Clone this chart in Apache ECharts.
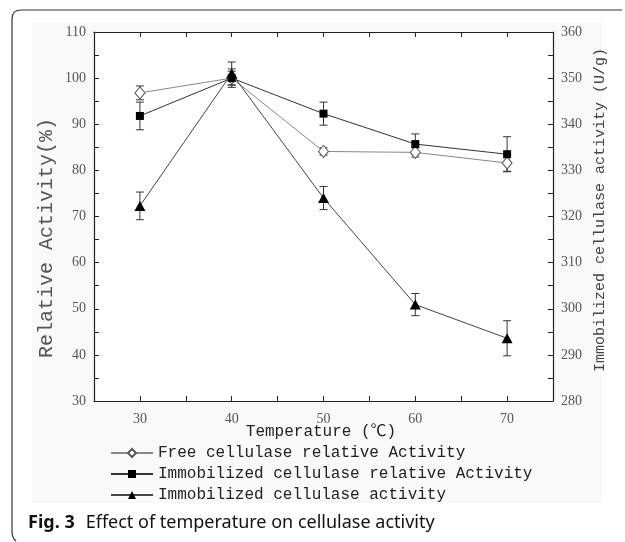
<!DOCTYPE html>
<html>
<head>
<meta charset="utf-8">
<script src="https://cdn.jsdelivr.net/npm/echarts@6/dist/echarts.min.js"></script>
<style>
html,body{margin:0;padding:0;background:#fff;}
#main{width:625px;height:542px;}
</style>
</head>
<body>
<div id="main"></div>
<script>
// 温度 (℃)
var temps = [30, 40, 50, 60, 70];
// Free cellulase relative activity (%)
var freeRel = [96.8, 100, 84.1, 83.9, 81.6];
var freeErr = [1.5, 1.5, 0.8, 1.0, 1.8];
// Immobilized cellulase relative activity (%)
var immRel = [91.8, 100, 92.3, 85.7, 83.5];
var immRelErr = [3.0, 2.0, 2.5, 2.2, 3.8];
// Immobilized cellulase activity (U/g)
var immAct = [322.3, 351, 324.0, 300.9, 293.6];
var immActErr = [3.0, 2.5, 2.5, 2.4, 3.8];

var seriesNames = ['Free cellulase relative Activity', 'Immobilized cellulase relative Activity', 'Immobilized cellulase activity'];

var mono = '"Liberation Mono", "Noto Sans CJK SC", monospace';
var serif = '"Liberation Serif", serif';

function pts(vals) {
    var out = [];
    for (var i = 0; i < temps.length; i++) out.push([temps[i], vals[i]]);
    return out;
}
function errPts(vals, errs) {
    var out = [];
    for (var i = 0; i < temps.length; i++) out.push([temps[i], vals[i] - errs[i], vals[i] + errs[i]]);
    return out;
}

// 误差棒
function renderErr(params, api) {
    var x = api.value(0);
    var lo = api.coord([x, api.value(1)]);
    var hi = api.coord([x, api.value(2)]);
    var w = 4;
    var st = {stroke: '#333', lineWidth: 1};
    return {
        type: 'group',
        children: [
            {type: 'line', shape: {x1: lo[0], y1: lo[1], x2: hi[0], y2: hi[1]}, style: st},
            {type: 'line', shape: {x1: lo[0] - w, y1: lo[1], x2: lo[0] + w, y2: lo[1]}, style: st},
            {type: 'line', shape: {x1: hi[0] - w, y1: hi[1], x2: hi[0] + w, y2: hi[1]}, style: st}
        ]
    };
}

var chart = echarts.init(document.getElementById('main'));

var frameStyle = {fill: 'none', stroke: '#333', lineWidth: 1.2};

var option = {
    animation: false,
    backgroundColor: '#fff',
    graphic: [
        {type: 'rect', z: -10, shape: {x: 32, y: 22, width: 570, height: 481}, style: {fill: '#f9f9f9'}},
        {type: 'line', z: 10, shape: {x1: 21, y1: 10, x2: 622, y2: 10}, style: frameStyle},
        {type: 'line', z: 10, shape: {x1: 12, y1: 19, x2: 12, y2: 531}, style: frameStyle},
        {type: 'bezierCurve', z: 10, shape: {x1: 12, y1: 19, cpx1: 12, cpy1: 10, x2: 21, y2: 10}, style: frameStyle},
        {type: 'bezierCurve', z: 10, shape: {x1: 12, y1: 531, cpx1: 12, cpy1: 538, x2: 16, y2: 541}, style: frameStyle},
        // 左轴标题
        {type: 'text', z: 10, x: 47, y: 238, rotation: Math.PI / 2,
         style: {text: 'Relative Activity(%)', font: '20px ' + mono, fill: '#555',
                 align: 'center', verticalAlign: 'middle'}},
        // 右轴标题
        {type: 'text', z: 10, x: 600, y: 210, rotation: Math.PI / 2,
         style: {text: 'Immobilized cellulase activity (U/g)', font: '15px ' + mono, fill: '#444',
                 align: 'center', verticalAlign: 'middle'}},
        // X轴标题
        {type: 'text', z: 10, x: 321, y: 432,
         style: {text: 'Temperature (℃)', font: '16px ' + mono, fill: '#222',
                 align: 'center', verticalAlign: 'middle'}},
        // 图注
        {type: 'text', z: 10, x: 28, y: 523,
         style: {
             text: '{b|Fig. 3}{n|Effect of temperature on cellulase activity}',
             verticalAlign: 'middle',
             rich: {
                 b: {fontFamily: '"Noto Sans", sans-serif', fontWeight: 'bold', fontSize: 18, fill: '#111'},
                 n: {fontFamily: '"Noto Sans", sans-serif', fontSize: 18, fill: '#111', padding: [0, 0, 0, 11]}
             }
         }}
    ],
    grid: {
        left: 94, right: 72, top: 32, bottom: 141,
        show: true, backgroundColor: '#fff', borderWidth: 0
    },
    legend: {
        data: seriesNames,
        orient: 'vertical',
        left: 110, top: 444, padding: 0,
        itemWidth: 42, itemHeight: 10, itemGap: 3,
        textStyle: {fontFamily: mono, fontSize: 16, lineHeight: 18, color: '#222'}
    },
    xAxis: [{
        type: 'value', min: 25, max: 75, interval: 5,
        axisLine: {lineStyle: {color: '#222', width: 1.2}},
        axisTick: {inside: true, length: 5, lineStyle: {color: '#222'}},
        axisLabel: {
            fontFamily: serif, fontSize: 14, color: '#555', margin: 11,
            formatter: function (v) { return (v % 10 === 0 && v >= 30 && v <= 70) ? v : ''; }
        },
        splitLine: {show: false}
    }, {
        type: 'value', min: 25, max: 75, interval: 5, position: 'top',
        axisLine: {lineStyle: {color: '#222', width: 1.2}},
        axisTick: {inside: true, length: 5, lineStyle: {color: '#222'}},
        axisLabel: {show: false},
        splitLine: {show: false}
    }],
    yAxis: [{
        type: 'value', min: 30, max: 110, interval: 10,
        axisLine: {show: true, lineStyle: {color: '#222', width: 1.2}},
        axisTick: {inside: true, length: 5, lineStyle: {color: '#222'}},
        minorTick: {show: true, splitNumber: 2, length: 5, lineStyle: {color: '#222'}},
        axisLabel: {fontFamily: serif, fontSize: 14, color: '#555', margin: 8},
        splitLine: {show: false}
    }, {
        type: 'value', min: 280, max: 360, interval: 10, position: 'right',
        axisLine: {show: true, lineStyle: {color: '#222', width: 1.2}},
        axisTick: {inside: true, length: 5, lineStyle: {color: '#222'}},
        minorTick: {show: true, splitNumber: 2, length: 5, lineStyle: {color: '#222'}},
        axisLabel: {fontFamily: serif, fontSize: 14, color: '#555', margin: 8},
        splitLine: {show: false}
    }],
    series: [{
        name: seriesNames[0], type: 'line', yAxisIndex: 0,
        data: pts(freeRel),
        symbol: 'diamond', symbolSize: [10, 12],
        lineStyle: {color: '#888', width: 1},
        itemStyle: {color: '#fff', borderColor: '#555', borderWidth: 1},
        z: 3
    }, {
        name: seriesNames[1], type: 'line', yAxisIndex: 0,
        data: pts(immRel),
        symbol: 'rect', symbolSize: 8,
        lineStyle: {color: '#333', width: 1},
        itemStyle: {color: '#000'},
        z: 4
    }, {
        name: seriesNames[2], type: 'line', yAxisIndex: 1,
        data: pts(immAct),
        symbol: 'triangle', symbolSize: [11, 10],
        lineStyle: {color: '#444', width: 1},
        itemStyle: {color: '#000'},
        z: 5
    }, {
        type: 'custom', yAxisIndex: 0, renderItem: renderErr,
        data: errPts(freeRel, freeErr), encode: {x: 0, y: [1, 2]}, z: 2
    }, {
        type: 'custom', yAxisIndex: 0, renderItem: renderErr,
        data: errPts(immRel, immRelErr), encode: {x: 0, y: [1, 2]}, z: 2
    }, {
        type: 'custom', yAxisIndex: 1, renderItem: renderErr,
        data: errPts(immAct, immActErr), encode: {x: 0, y: [1, 2]}, z: 2
    }]
};

chart.setOption(option);
</script>
</body>
</html>
